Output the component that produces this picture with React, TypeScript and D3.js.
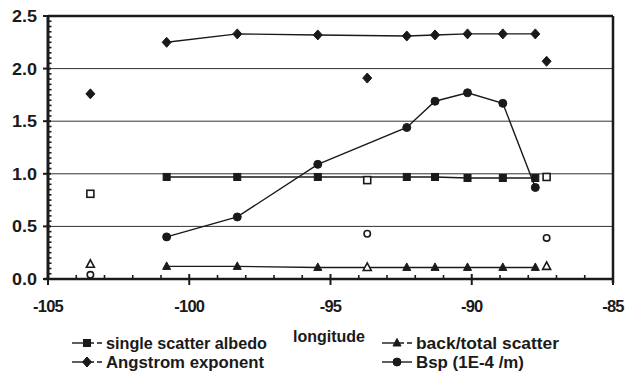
import React from "react";
import * as d3 from "d3";

const lonSeries = [-100.8, -98.3, -95.45, -92.3, -91.3, -90.15, -88.9, -87.75];
const albedo = [0.97, 0.97, 0.97, 0.97, 0.97, 0.96, 0.96, 0.96];
const angstrom = [2.25, 2.33, 2.32, 2.31, 2.32, 2.33, 2.33, 2.33];
const backTotal = [0.12, 0.12, 0.11, 0.11, 0.11, 0.11, 0.11, 0.11];
const bsp = [0.4, 0.59, 1.09, 1.44, 1.69, 1.77, 1.67, 0.87];

const lonIso = [-103.5, -93.7, -87.35];
const albedoIso = [0.81, 0.94, 0.97];
const angstromIso = [1.76, 1.91, 2.07];
const backTotalIso = [0.14, 0.11, 0.12];
const bspIso = [0.04, 0.43, 0.39];

const xTicks = [-105, -100, -95, -90, -85];
const yTicks = [0, 0.5, 1.0, 1.5, 2.0, 2.5];

const W = 626, H = 374;
const L = 48, R = 613, T = 16, B = 279;
const INK = "#1a1a1a";
const FONT = "'Liberation Sans', Arial, sans-serif";

type Shape = "square" | "diamond" | "triangle" | "circle";

function Marker({ x, y, shape, open }: { x: number; y: number; shape: Shape; open?: boolean }) {
  const fill = open ? "#fff" : INK;
  const sw = open ? 1.6 : 1;
  if (shape === "square") return <rect x={x - 3.5} y={y - 3.5} width={7} height={7} fill={fill} stroke={INK} strokeWidth={sw} />;
  if (shape === "diamond") return <path d={`M${x},${y - 5}L${x + 4.5},${y}L${x},${y + 5}L${x - 4.5},${y}Z`} fill={fill} stroke={INK} strokeWidth={sw} />;
  if (shape === "triangle") return <path d={`M${x},${y - 4.5}L${x + 4},${y + 3}L${x - 4},${y + 3}Z`} fill={fill} stroke={INK} strokeWidth={sw} />;
  return <circle cx={x} cy={y} r={open ? 3.2 : 4} fill={fill} stroke={INK} strokeWidth={sw} />;
}

export default function App() {
  const x = d3.scaleLinear().domain([-105, -85]).range([L, R]);
  const y = d3.scaleLinear().domain([0, 2.5]).range([B, T]);
  const line = d3.line<[number, number]>().x(d => x(d[0])).y(d => y(d[1]));
  const series: { vals: number[]; iso: number[]; shape: Shape; openIso: boolean }[] = [
    { vals: albedo, iso: albedoIso, shape: "square", openIso: true },
    { vals: angstrom, iso: angstromIso, shape: "diamond", openIso: false },
    { vals: backTotal, iso: backTotalIso, shape: "triangle", openIso: true },
    { vals: bsp, iso: bspIso, shape: "circle", openIso: true },
  ];
  const xMinor = d3.range(-104, -85, 1).filter(v => v % 5 !== 0);
  const yMinor = d3.range(0.05, 2.5, 0.05).filter(v => Math.abs(v * 2 - Math.round(v * 2)) > 1e-6);

  const legend = [
    { label: "single scatter albedo", shape: "square" as Shape, lx: 72, ly: 343, dash: true, len: 161 },
    { label: "Angstrom exponent", shape: "diamond" as Shape, lx: 72, ly: 362, dash: true, len: 158 },
    { label: "back/total scatter", shape: "triangle" as Shape, lx: 382, ly: 343, dash: true, len: 143 },
    { label: "Bsp (1E-4 /m)", shape: "circle" as Shape, lx: 382, ly: 362, dash: false, len: 108 },
  ];

  return (
    <svg width={W} height={H} style={{ position: "absolute", left: 0, top: 0, background: "#fff" }}>
      <rect width={W} height={H} fill="#fff" />
      {[0.5, 1.0, 1.5, 2.0].map(v => (
        <line key={v} x1={L} x2={R} y1={y(v)} y2={y(v)} stroke="#333" strokeWidth={1} />
      ))}
      <line x1={L} x2={R} y1={y(2.5)} y2={y(2.5)} stroke={INK} strokeWidth={2.5} />
      <line x1={R} x2={R} y1={T} y2={B + 4} stroke={INK} strokeWidth={2.5} />
      <line x1={L} x2={L} y1={T} y2={B} stroke={INK} strokeWidth={3} />
      <line x1={L - 4} x2={R} y1={B} y2={B} stroke={INK} strokeWidth={2.5} />
      {yTicks.map(v => (
        <g key={v}>
          <line x1={L - 5} x2={L + 3} y1={y(v)} y2={y(v)} stroke={INK} strokeWidth={2} />
          <text x={L - 11} y={y(v) + 6} textAnchor="end" fontFamily={FONT} fontWeight="bold" fontSize={16.5} fill={INK} textLength={25} lengthAdjust="spacingAndGlyphs">{v.toFixed(1)}</text>
        </g>
      ))}
      {yMinor.map(v => (
        <line key={v} x1={L} x2={L + 3.5} y1={y(v)} y2={y(v)} stroke={INK} strokeWidth={1.6} />
      ))}
      {xTicks.map(v => (
        <g key={v}>
          <line x1={x(v)} x2={x(v)} y1={B - 5} y2={B + 6} stroke={INK} strokeWidth={2} />
          <text x={x(v)} y={B + 33} textAnchor="middle" fontFamily={FONT} fontWeight="bold" fontSize={16.5} fill={INK} letterSpacing={-0.8}>{v}</text>
        </g>
      ))}
      {xMinor.map(v => (
        <line key={v} x1={x(v)} x2={x(v)} y1={B - 4} y2={B} stroke={INK} strokeWidth={1.6} />
      ))}
      {series.map((s, i) => (
        <g key={i}>
          <path d={line(lonSeries.map((lo, j) => [lo, s.vals[j]] as [number, number])) || ""} fill="none" stroke={INK} strokeWidth={1.4} />
          {lonSeries.map((lo, j) => <Marker key={j} x={x(lo)} y={y(s.vals[j])} shape={s.shape} />)}
          {lonIso.map((lo, j) => <Marker key={"i" + j} x={x(lo)} y={y(s.iso[j])} shape={s.shape} open={s.openIso} />)}
        </g>
      ))}
      <text x={293} y={342} fontFamily={FONT} fontWeight="bold" fontSize={16} fill={INK} textLength={72} lengthAdjust="spacingAndGlyphs">longitude</text>
      {legend.map((l, i) => (
        <g key={i}>
          <line x1={l.lx} x2={l.lx + 13} y1={l.ly} y2={l.ly} stroke={INK} strokeWidth={1.4} />
          <line x1={l.lx + 17} x2={l.lx + 30} y1={l.ly} y2={l.ly} stroke={INK} strokeWidth={1.4} strokeDasharray={l.dash ? "5,3" : undefined} />
          <Marker x={l.lx + 15} y={l.ly} shape={l.shape} />
          <text x={l.lx + 34} y={l.ly + 5.5} fontFamily={FONT} fontWeight="bold" fontSize={16} fill={INK} textLength={l.len} lengthAdjust="spacingAndGlyphs">{l.label}</text>
        </g>
      ))}
    </svg>
  );
}
